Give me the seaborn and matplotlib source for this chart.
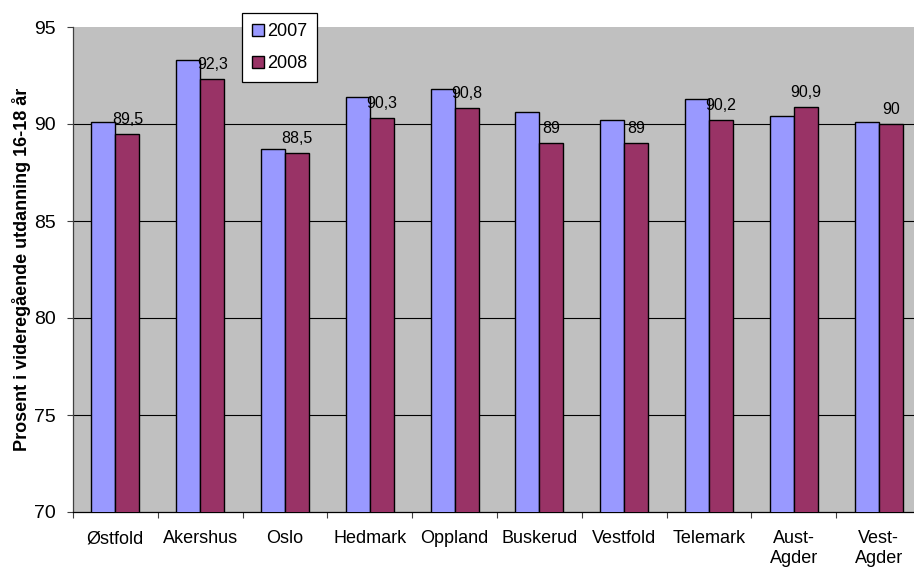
import matplotlib
matplotlib.use("Agg")
import matplotlib.pyplot as plt
from matplotlib.patches import Patch
from matplotlib.ticker import FixedLocator
import seaborn as sns
import pandas as pd

# Counties and completion shares (percent of 16-18 year olds in upper secondary education)
fylker = ["Østfold", "Akershus", "Oslo", "Hedmark", "Oppland", "Buskerud",
          "Vestfold", "Telemark", "Aust-\nAgder", "Vest-\nAgder"]
andel_2007 = [90.1, 93.3, 88.7, 91.4, 91.8, 90.6, 90.2, 91.3, 90.4, 90.1]
andel_2008 = [89.5, 92.3, 88.5, 90.3, 90.8, 89.0, 89.0, 90.2, 90.9, 90.0]
aar = ["2007", "2008"]
farger = ["#9999FF", "#993366"]
y_ticks = [70, 75, 80, 85, 90, 95]

df = pd.DataFrame({
    "fylke": fylker * 2,
    "andel": andel_2007 + andel_2008,
    "år": [aar[0]] * len(fylker) + [aar[1]] * len(fylker),
})

sns.set_style("white")
plt.rcParams["font.family"] = ["Liberation Sans", "DejaVu Sans"]
plt.rcParams.update({"text.color": "black", "axes.labelcolor": "black",
                     "xtick.labelcolor": "black", "ytick.labelcolor": "black"})

W, H = 914, 568
fig = plt.figure(figsize=(W / 100, H / 100), dpi=100)
ax = fig.add_axes([73 / W, 1 - 512 / H, 848 / W, 485 / H])
ax.set_facecolor("#C0C0C0")

sns.barplot(data=df, x="fylke", y="andel", hue="år", palette=farger,
            width=0.567, gap=0, edgecolor="black", linewidth=1.0,
            saturation=1, legend=False, ax=ax, zorder=3)

ax.set_ylim(70, 95)
ax.set_xlim(-0.5, len(fylker) - 0.5)
ax.set_yticks(y_ticks)
ax.set_yticklabels([str(t) for t in y_ticks])
for t in y_ticks[1:-1]:
    ax.axhline(t, color="black", lw=0.8, zorder=1)

# category boundary ticks on the x axis, labels at bar-group centres
ax.xaxis.set_minor_locator(FixedLocator([i - 0.5 for i in range(len(fylker) + 1)]))
ax.tick_params(axis="x", which="major", length=0, pad=13, labelsize=13,
               labelcolor="black")
ax.tick_params(axis="x", which="minor", length=4.5, width=0.8, color="#404040",
               direction="out", bottom=True)
ax.tick_params(axis="y", which="major", length=4.5, width=0.8, color="#404040",
               direction="out", left=True, pad=8, labelsize=14, labelcolor="black")
ax.set_xlabel("")
ax.set_ylabel("Prosent i videregående utdanning 16-18 år", fontsize=13,
              fontweight="bold", color="black")
ax.yaxis.set_label_coords(-0.05, 0.5)

for side in ["top", "right"]:
    ax.spines[side].set_visible(False)
ax.spines["left"].set_color("#404040")
ax.spines["left"].set_linewidth(0.9)
ax.spines["bottom"].set_color("black")
ax.spines["bottom"].set_linewidth(0.9)

# value labels above the 2008 bars
for i, v in enumerate(andel_2008):
    ax.annotate(f"{v:g}".replace(".", ","), xy=(i + 0.142, v),
                xytext=(0, 7.2), textcoords="offset points",
                ha="center", va="baseline", fontsize=11.5, color="black",
                zorder=5)

handles = [Patch(facecolor=c, edgecolor="black", linewidth=1.0) for c in farger]
leg = fig.legend(handles, aar, loc="upper left",
                 bbox_to_anchor=(242 / W, 1 - 13 / H), fontsize=13,
                 frameon=True, fancybox=False, shadow=False,
                 handlelength=0.65, handleheight=0.65, handletextpad=0.2,
                 labelspacing=0.85, borderpad=0.55, borderaxespad=0)
leg.get_frame().set_edgecolor("black")
leg.get_frame().set_linewidth(0.9)
leg.get_frame().set_facecolor("white")
leg.get_frame().set_alpha(1)
for txt in leg.get_texts():
    txt.set_color("black")

fig.savefig("out.png", dpi=100, facecolor="white")
